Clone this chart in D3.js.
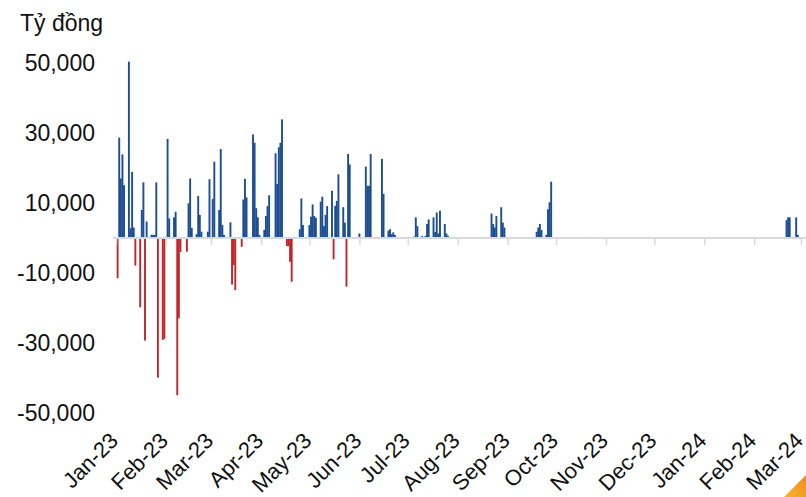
<!DOCTYPE html>
<html>
<head>
<meta charset="utf-8">
<script src="https://cdn.jsdelivr.net/npm/d3@7"></script>
<style>
  body { margin: 0; background: #fff; }
  svg { display: block; font-family: "Liberation Sans", Arial, sans-serif; }
</style>
</head>
<body>
<svg id="chart"></svg>
<script>
// daily net values, ty dong
const dates = [
  "2023-01-02","2023-01-03","2023-01-04","2023-01-05","2023-01-06","2023-01-09","2023-01-10","2023-01-11","2023-01-12","2023-01-13",
  "2023-01-16","2023-01-17","2023-01-18","2023-01-19","2023-01-20","2023-01-23","2023-01-24","2023-01-25","2023-01-26","2023-01-27",
  "2023-01-30","2023-01-31","2023-02-02","2023-02-03","2023-02-06","2023-02-07","2023-02-08","2023-02-09","2023-02-10","2023-02-14",
  "2023-02-15","2023-02-16","2023-02-17","2023-02-20","2023-02-21","2023-02-22","2023-02-23","2023-02-27","2023-02-28","2023-03-02",
  "2023-03-03","2023-03-06","2023-03-07","2023-03-08","2023-03-09","2023-03-13","2023-03-14","2023-03-15","2023-03-16","2023-03-20",
  "2023-03-21","2023-03-22","2023-03-23","2023-03-27","2023-03-28","2023-03-29","2023-03-30","2023-03-31","2023-04-03","2023-04-04",
  "2023-04-05","2023-04-06","2023-04-10","2023-04-11","2023-04-12","2023-04-13","2023-04-14","2023-04-17","2023-04-18","2023-04-19",
  "2023-04-20","2023-04-25","2023-04-26","2023-04-27","2023-05-01","2023-05-02","2023-05-03","2023-05-04","2023-05-05","2023-05-08",
  "2023-05-09","2023-05-10","2023-05-11","2023-05-12","2023-05-15","2023-05-16","2023-05-17","2023-05-18","2023-05-19","2023-05-22",
  "2023-05-23","2023-05-24","2023-05-25","2023-05-26","2023-06-01","2023-06-05","2023-06-06","2023-06-07","2023-06-08","2023-06-15",
  "2023-06-16","2023-06-19","2023-06-20","2023-06-21","2023-06-22","2023-06-23","2023-07-05","2023-07-06","2023-07-07","2023-07-10",
  "2023-07-12","2023-07-13","2023-07-14","2023-07-17","2023-07-18","2023-07-19","2023-07-20","2023-07-21","2023-07-24","2023-07-25",
  "2023-07-26","2023-08-22","2023-08-23","2023-08-24","2023-08-25","2023-08-28","2023-08-29","2023-08-30","2023-09-19","2023-09-20",
  "2023-09-21","2023-09-22","2023-09-25","2023-09-26","2023-09-27","2023-09-28","2023-10-13","2023-10-20","2023-10-23","2024-02-21",
  "2024-02-22","2024-02-23","2024-02-27","2024-02-28"
];
const values = [
  -11500, 28700, 17000, 23900, 15100, 50400, 2800, 18900, 3000, -7900,
  -19800, 8000, 15900, -29300, 4700, 900, 900, 900, 15900, -39900,
  -29100, -28800, 28300, 5600, 5900, 7500, -44900, -22900, -4000, -3900,
  9900, 17000, 2900, 1100, 12000, 6600, 1800, 1800, 16800, 11100,
  21800, 8000, 25400, 3700, 900, 4500, -13300, -7700, -14900, -2500,
  11000, 16900, 11600, 29600, 27200, 8500, 5900, 900, 2300, 6300,
  9100, 12200, 24200, 15400, 25900, 27200, 33900, -2300, -2300, -6800,
  -12500, 2500, 11300, 3700, 3700, 6100, 9600, 6300, 5800, 10400,
  11800, 3400, 6600, 9100, 13500, -6100, 9200, 10600, 18200, 8800,
  4400, -13900, 24000, 21000, 1300, 20400, 14900, 14900, 24000, 22600,
  12600, 2100, 2500, 1100, 1600, 900, 400, 5900, 3400, 600,
  600, 4000, 5300, 5900, 1700, 7300, 1300, 7800, 4000, 1300,
  600, 7000, 4000, 3000, 6300, 8800, 4400, 3000, 1800, 3000,
  4000, 2300, 900, 8200, 10200, 16100, 300, 300, 300, 5100,
  5900, 5900, 5900, 900
];
const monthTicks = [
  "2023-01-01","2023-02-01","2023-03-01","2023-04-01","2023-05-01","2023-06-01","2023-07-01","2023-08-01",
  "2023-09-01","2023-10-01","2023-11-01","2023-12-01","2024-01-01","2024-02-01","2024-03-01"
];
const yTicks = [50000, 30000, 10000, -10000, -30000, -50000];
const unitLabel = "Tỷ đồng";

const W = 806, H = 497;
const parse = d3.timeParse("%Y-%m-%d");
const data = dates.map((d, i) => ({ date: parse(d), value: values[i] }));

const svg = d3.select("#chart").attr("width", W).attr("height", H);

const x = d3.scaleTime()
    .domain([parse("2023-01-01"), parse("2024-03-01")])
    .range([116, 801]);
const y = d3.scaleLinear()
    .domain([-50000, 50000])
    .range([413, 63]);

const barW = 1.9;

// unit
svg.append("text")
    .attr("x", 20).attr("y", 31)
    .attr("font-size", 23)
    .attr("fill", "#111")
    .text(unitLabel);

// y axis labels only
const yAxis = d3.axisLeft(y)
    .tickValues(yTicks)
    .tickSize(0)
    .tickPadding(0)
    .tickFormat(d => d3.format(",")(d).replace("\u2212", "-"));

svg.append("g")
    .attr("transform", "translate(95,0)")
    .call(yAxis)
    .call(g => g.select(".domain").remove())
    .selectAll("text")
    .attr("font-size", 23)
    .attr("font-family", "Liberation Sans, Arial, sans-serif")
    .attr("fill", "#111");

// bars
svg.append("g")
    .selectAll("rect")
    .data(data)
    .join("rect")
    .attr("x", d => x(d.date) - barW / 2)
    .attr("width", barW)
    .attr("y", d => d.value >= 0 ? y(d.value) : y(0))
    .attr("height", d => Math.abs(y(d.value) - y(0)))
    .attr("fill", d => d.value >= 0 ? "#1d4e91" : "#c0262c");

// x axis at zero, labels at the bottom
const xAxis = d3.axisBottom(x)
    .tickValues(monthTicks.map(parse))
    .tickSize(7)
    .tickSizeOuter(0)
    .tickFormat(d3.timeFormat("%b-%y"));

const y0 = y(0);
const gx = svg.append("g")
    .attr("transform", "translate(0," + y0 + ")")
    .call(xAxis);

gx.select(".domain")
    .attr("d", "M113,0H806")
    .attr("stroke", "#d9d9d9")
    .attr("stroke-width", 2);
gx.selectAll(".tick line")
    .attr("stroke", "#d9d9d9")
    .attr("stroke-width", 1.5);
gx.selectAll(".tick text")
    .attr("y", 0)
    .attr("dy", 0)
    .attr("text-anchor", "end")
    .attr("transform", "translate(3," + (442 - y0) + ") rotate(-45)")
    .attr("font-size", 22)
    .attr("font-family", "Liberation Sans, Arial, sans-serif")
    .attr("fill", "#111");

// corner mark
const grad = svg.append("defs").append("linearGradient")
    .attr("id", "corner").attr("x1", 0).attr("y1", 1).attr("x2", 1).attr("y2", 0);
grad.append("stop").attr("offset", 0).attr("stop-color", "#f9b233");
grad.append("stop").attr("offset", 1).attr("stop-color", "#ef8a1a");
svg.append("path")
    .attr("d", "M784,497L806,475L806,497Z")
    .attr("fill", "url(#corner)");
</script>
</body>
</html>
